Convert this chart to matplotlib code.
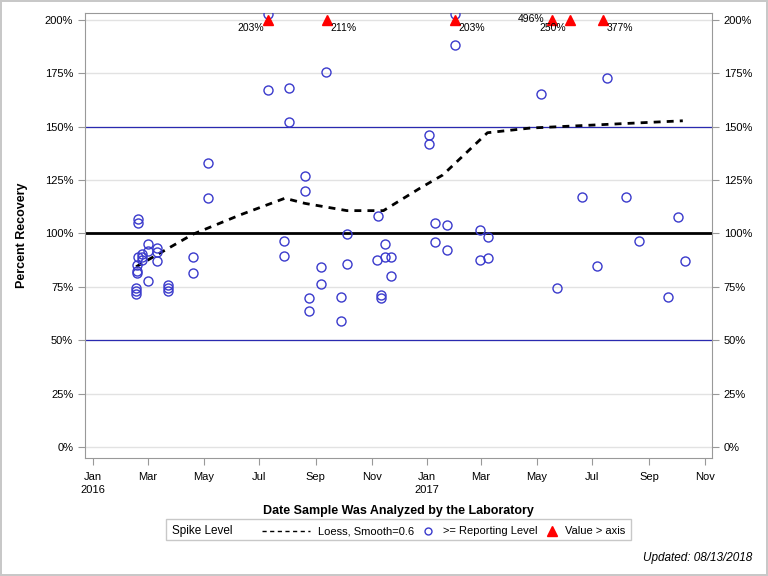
import numpy as np
import pandas as pd
import matplotlib
matplotlib.use('Agg')
import matplotlib.pyplot as plt
from matplotlib.lines import Line2D
from matplotlib.patches import Rectangle

plt.rcParams['font.family'] = ['Liberation Sans', 'DejaVu Sans']

# recovery (%) of each spike, by analysis date
pt_dates = ['2016-02-17', '2016-02-17', '2016-02-17',
            '2016-02-18', '2016-02-18', '2016-02-18',
            '2016-02-19', '2016-02-19', '2016-02-19',
            '2016-02-24', '2016-02-24', '2016-02-24',
            '2016-03-01', '2016-03-01', '2016-03-01',
            '2016-03-11', '2016-03-11', '2016-03-11',
            '2016-03-23', '2016-03-23', '2016-03-23',
            '2016-04-19', '2016-04-19',
            '2016-05-06', '2016-05-06',
            '2016-07-11', '2016-07-11',
            '2016-07-28', '2016-07-28',
            '2016-08-02', '2016-08-02',
            '2016-08-20', '2016-08-20',
            '2016-08-24', '2016-08-24',
            '2016-09-07', '2016-09-07',
            '2016-09-12',
            '2016-09-29', '2016-09-29',
            '2016-10-05', '2016-10-05',
            '2016-11-07', '2016-11-08',
            '2016-11-11', '2016-11-11',
            '2016-11-16', '2016-11-16',
            '2016-11-22', '2016-11-22',
            '2017-01-03', '2017-01-03',
            '2017-01-09', '2017-01-09',
            '2017-01-23', '2017-01-23',
            '2017-01-31', '2017-01-31',
            '2017-02-28', '2017-02-28',
            '2017-03-09', '2017-03-09',
            '2017-05-06', '2017-05-23', '2017-06-20', '2017-07-06',
            '2017-07-17', '2017-08-07', '2017-08-21', '2017-09-22',
            '2017-10-03', '2017-10-10']
pt_values = [74.5, 73.2, 71.5,
             85.2, 82.6, 81.6,
             106.8, 104.8, 88.9,
             90.4, 88.9, 87.6,
             94.9, 91.8, 77.8,
             93.1, 91.5, 87.0,
             75.7, 74.5, 73.2,
             88.9, 81.4,
             133.0, 116.6,
             203.0, 167.2,
             96.5, 89.3,
             168.1, 152.2,
             126.8, 119.8,
             69.6, 63.6,
             84.2, 76.2,
             175.6,
             70.1, 58.9,
             99.8, 85.6,
             87.4, 108.1,
             71.3, 69.8,
             94.9, 88.9,
             88.9, 80.1,
             146.0, 141.8,
             104.8, 95.9,
             103.8, 92.3,
             203.0, 188.3,
             101.6, 87.6,
             98.2, 88.5,
             165.2, 74.3, 116.9, 84.6,
             172.7, 116.9, 96.3, 70.1,
             107.6, 87.0]

# values above the axis
over_dates = ['2016-07-11', '2016-09-13', '2017-01-31', '2017-05-18', '2017-06-06', '2017-07-13']
over_values = [203, 211, 203, 496, 250, 377]

# loess fit
loess_dates = ['2016-02-17', '2016-04-19', '2016-06-10', '2016-07-29', '2016-08-20',
               '2016-10-05', '2016-11-14', '2016-12-24', '2017-01-18', '2017-03-08',
               '2017-04-24', '2017-10-08']
loess_values = [84.4, 99.6, 108.7, 116.5, 114.1, 110.7, 110.7, 121.2, 127.4, 147.2, 149.4, 152.8]

y_ticks = [0, 25, 50, 75, 100, 125, 150, 175, 200]

fig = plt.figure(figsize=(7.68, 5.76), dpi=100)
fig.patch.set_edgecolor('#c8c8c8')
fig.patch.set_linewidth(1.5)
ax = fig.add_axes([85/768, 118/576, 627/768, 445/576])

pd_pts = pd.to_datetime(pt_dates)
pd_over = pd.to_datetime(over_dates)
pd_loess = pd.to_datetime(loess_dates)

for t in y_ticks:
    ax.axhline(t, color='#e2e2e2', lw=1, zorder=0)
ax.axhline(100, color='black', lw=2, zorder=1)
ax.axhline(50, color='#2a2ab0', lw=0.9, zorder=1)
ax.axhline(150, color='#2a2ab0', lw=0.9, zorder=1)

ax.plot(pd_loess, loess_values, color='black', lw=2, dashes=(2.5, 2.2), zorder=3)
ax.plot(pd_pts, pt_values, 'o', ms=6.5, mfc='none', mec='#3a3acc', mew=1, zorder=4)
ax.plot(pd_over, [200] * len(over_values), '^', ms=7.5, color='#ff0000', mec='#ff0000', zorder=5, clip_on=False)

# label offsets (pixels) for the > axis values
lbl_ha = ['right', 'left', 'left', 'right', 'right', 'left']
lbl_dx = [-4, 4, 4, -8, -4, 3]
lbl_dy = [-8, -8, -8, 1, -8, -8]
for d, v, ha, dx, dy in zip(pd_over, over_values, lbl_ha, lbl_dx, lbl_dy):
    ax.annotate(f'{v}%', (d, 200), xytext=(dx, dy), textcoords='offset pixels',
                ha=ha, va='center', fontsize=7.5, zorder=6)

ax.set_ylim(-5.2, 203.3)
ax.set_xlim(pd.Timestamp('2015-12-23'), pd.Timestamp('2017-11-09'))
ax.set_yticks(y_ticks)
ax.set_yticklabels([f'{t}%' for t in y_ticks])

xt = pd.date_range('2016-01-01', '2017-11-01', freq='2MS')
ax.set_xticks(xt)
ax.set_xticklabels([d.strftime('%b') + ('\n%d' % d.year if d.month == 1 else '') for d in xt],
                   linespacing=1.4)

for s in ax.spines.values():
    s.set_color('#999999')
ax.tick_params(axis='both', colors='#999999', labelcolor='black', labelsize=8, length=5)
ax.tick_params(axis='y', right=True, labelright=True)
ax.tick_params(axis='x', pad=5)

ax.set_ylabel('Percent Recovery', fontsize=9, fontweight='bold', labelpad=12)
ax.set_xlabel('Date Sample Was Analyzed by the Laboratory', fontsize=9, fontweight='bold', labelpad=7)

# legend drawn by hand, inline title
W, H = 768, 576
ly = (H - 531) / H
fig.patches.append(Rectangle((166/W, 36/H), 465/W, 21/H, transform=fig.transFigure,
                             fill=False, edgecolor='#c8c8c8', lw=1))
fig.text(172/W, ly, 'Spike Level', fontsize=8.5, va='center')
fig.lines.append(Line2D([262/W, 310/W], [ly, ly], transform=fig.transFigure,
                        color='black', lw=1, dashes=(3, 2.5)))
fig.text(318/W, ly, 'Loess, Smooth=0.6', fontsize=8, va='center')
fig.lines.append(Line2D([428/W], [ly], transform=fig.transFigure, marker='o', ls='none',
                        ms=5, mfc='none', mec='#3a3acc', mew=1))
fig.text(443/W, ly, '>= Reporting Level', fontsize=8, va='center')
fig.lines.append(Line2D([552/W], [ly], transform=fig.transFigure, marker='^', ls='none',
                        ms=6.5, color='#ff0000'))
fig.text(565/W, ly, 'Value > axis', fontsize=8, va='center')

fig.text(752/W, 18/H, 'Updated: 08/13/2018', fontsize=8.5, style='italic', ha='right', va='center')

fig.savefig('out.png', dpi=100)
